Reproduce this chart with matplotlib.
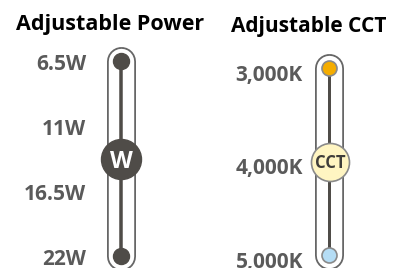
import matplotlib.pyplot as plt

# data
power_labels = ["6.5W", "11W", "16.5W", "22W"]
cct_labels = ["3,000K", "4,000K", "5,000K"]
power_knob = 1.5   # knob sits between 11W and 16.5W
cct_knob = 1.0     # knob at 4,000K
titles = ["Adjustable Power", "Adjustable CCT"]

DARK = "#4f4c48"
LABEL = "#5a5a5a"
EDGE = "#8a8a8a"
PX = 0.72  # points per pixel at dpi 100
WT = 700

plt.rcParams["font.family"] = ["Open Sans", "DejaVu Sans"]

fig = plt.figure(figsize=(4.05, 2.68), dpi=100)
fig.set_facecolor("white")


def slider_axes(top_px, step_px):
    ax = fig.add_axes([0, 0, 1, 1])
    ax.set_xlim(0, 405)
    ax.set_ylim((268 - top_px) / step_px, -top_px / step_px)
    ax.axis("off")
    return ax


def capsule(ax, x, y0, y1, width_px=29, stroke_px=1.8):
    ax.plot([x, x], [y0, y1], color="#666666", lw=width_px * PX,
            solid_capstyle="round", zorder=1)
    ax.plot([x, x], [y0, y1], color="white", lw=(width_px - 2 * stroke_px) * PX,
            solid_capstyle="round", zorder=1.5)


# --- Adjustable Power
axl = slider_axes(61, 65)
n = len(power_labels)
xl = 121
capsule(axl, xl, 0, n - 1)
axl.plot([xl, xl], [0, n - 1], color=DARK, lw=3.5 * PX, zorder=2)
axl.plot([xl, xl], [0, n - 1], "o", color=DARK, ms=16 * PX, zorder=3)
axl.plot([xl], [power_knob], "o", color=DARK, ms=40 * PX, zorder=4)
axl.text(xl + 0.5, power_knob, "W", color="white", fontsize=17,
         fontweight=WT, ha="center", va="center_baseline", zorder=5)
for i, lab in enumerate(power_labels):
    axl.text(86, i + 0.02, lab, color=LABEL, fontsize=15, fontweight=WT,
             ha="right", va="center_baseline")

# --- Adjustable CCT
axr = slider_axes(68, 93.5)
m = len(cct_labels)
xr = 329
capsule(axr, xr, 0, m - 1)
axr.plot([xr, xr], [0, m - 1], color=DARK, lw=3 * PX, zorder=2)
axr.plot([xr], [0], "o", color="#f5ad00", mec=EDGE, mew=1.2, ms=15 * PX, zorder=3)
axr.plot([xr], [m - 1], "o", color="#b5ddf5", mec=EDGE, mew=1.2, ms=15 * PX, zorder=3)
axr.plot([xr + 1], [cct_knob], "o", color="#fff5c2", mec=EDGE, mew=1.2,
         ms=38 * PX, zorder=4)
axr.text(xr + 1, cct_knob, "CCT", color="#3f3d3a", fontsize=12,
         fontweight=WT, ha="center", va="center_baseline", zorder=5)
for i, lab in enumerate(cct_labels):
    axr.text(303, i + 0.05, lab, color=LABEL, fontsize=15, fontweight=WT,
             ha="right", va="center_baseline")

# titles
fig.text(110 / 405, 1 - 22 / 268, titles[0], color="black", fontsize=15.5,
         fontweight=WT, ha="center", va="center_baseline")
fig.text(309 / 405, 1 - 24 / 268, titles[1], color="black", fontsize=15,
         fontweight=WT, ha="center", va="center_baseline")

fig.savefig("out.png", dpi=100, facecolor="white")
